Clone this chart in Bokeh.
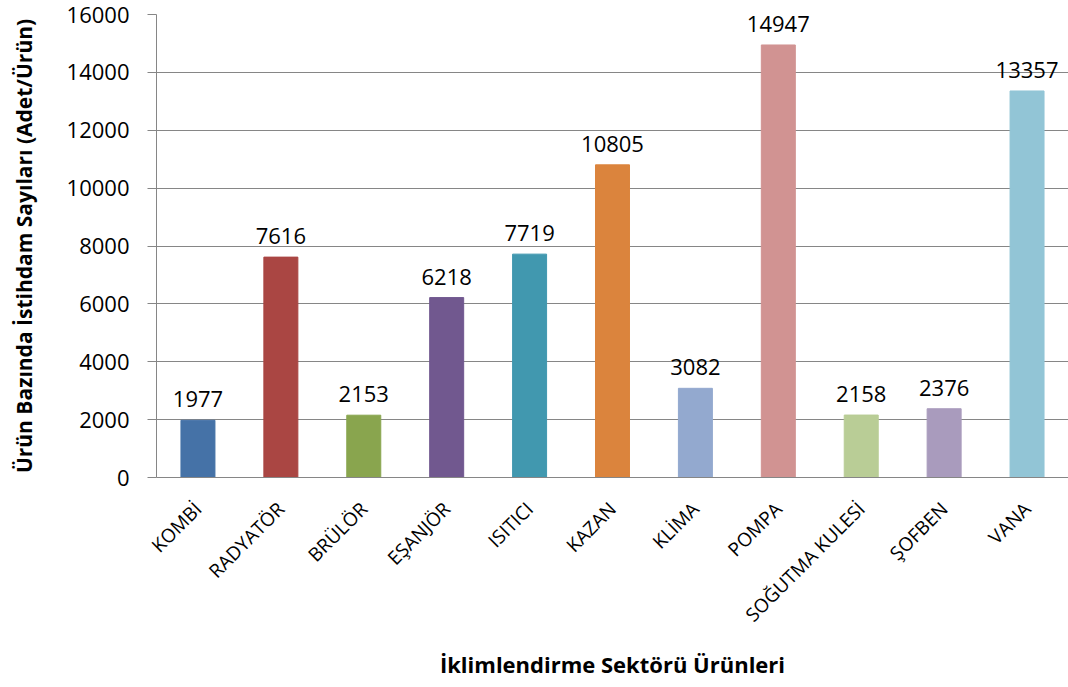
import math
from bokeh.plotting import figure
from bokeh.models import ColumnDataSource, SingleIntervalTicker, Range1d, FactorRange
from bokeh.core.properties import value
from bokeh.embed import file_html
from bokeh.resources import INLINE

categories = ["KOMBİ", "RADYATÖR", "BRÜLÖR", "EŞANJÖR", "ISITICI", "KAZAN",
              "KLİMA", "POMPA", "SOĞUTMA KULESİ", "ŞOFBEN", "VANA"]
values = [1977, 7616, 2153, 6218, 7719, 10805, 3082, 14947, 2158, 2376, 13357]
colors = ["#4572A7", "#AA4643", "#89A54E", "#71588F", "#4198AF", "#DB843D",
          "#93A9CF", "#D19392", "#B9CD96", "#A99BBD", "#92C5D6"]

FONT = "Open Sans"

src = ColumnDataSource(dict(cat=categories, val=values, col=colors,
                            lab=[str(v) for v in values]))

p = figure(width=1068, height=687, x_range=FactorRange(*categories, range_padding=0),
           y_range=Range1d(0, 16000), output_backend="svg", toolbar_location=None,
           min_border_left=156, min_border_right=0, min_border_top=14,
           min_border_bottom=210)
p.outline_line_color = None

p.vbar(x="cat", top="val", width=0.41, color="col", source=src)
p.text(x="cat", y="val", text="lab", source=src, text_align="center",
       text_baseline="alphabetic", y_offset=-21, text_font=value(FONT),
       text_font_size="22px", text_color="#000000")

p.yaxis.ticker = SingleIntervalTicker(interval=2000)
p.yaxis.axis_line_color = "#868686"
p.yaxis.major_tick_line_color = "#868686"
p.yaxis.major_tick_out = 9
p.yaxis.major_tick_in = 0
p.yaxis.minor_tick_line_color = None
p.yaxis.major_label_text_font = FONT
p.yaxis.major_label_text_font_size = "22px"
p.yaxis.major_label_text_color = "#000000"
p.yaxis.major_label_standoff = 18
p.yaxis.axis_label = "Ürün Bazında İstihdam Sayıları (Adet/Ürün)"
p.yaxis.axis_label_text_font = FONT
p.yaxis.axis_label_text_font_size = "21px"
p.yaxis.axis_label_text_font_style = "bold"
p.yaxis.axis_label_text_color = "#000000"
p.yaxis.axis_label_standoff = 26

p.xaxis.axis_line_color = "#868686"
p.xaxis.major_tick_line_color = None
p.xaxis.minor_tick_line_color = None
p.xaxis.major_label_orientation = math.pi / 4
p.xaxis.major_label_text_font = FONT
p.xaxis.major_label_text_font_size = "19px"
p.xaxis.major_label_text_color = "#000000"
p.xaxis.major_label_standoff = 22
p.xaxis.axis_label = "İklimlendirme Sektörü Ürünleri"
p.xaxis.axis_label_text_font = FONT
p.xaxis.axis_label_text_font_size = "22px"
p.xaxis.axis_label_text_font_style = "bold"
p.xaxis.axis_label_text_color = "#000000"
p.xaxis.axis_label_standoff = 10

p.xgrid.grid_line_color = None
p.ygrid.grid_line_color = "#868686"
p.ygrid.grid_line_width = 1

open("out.html", "w").write(file_html(p, INLINE))
